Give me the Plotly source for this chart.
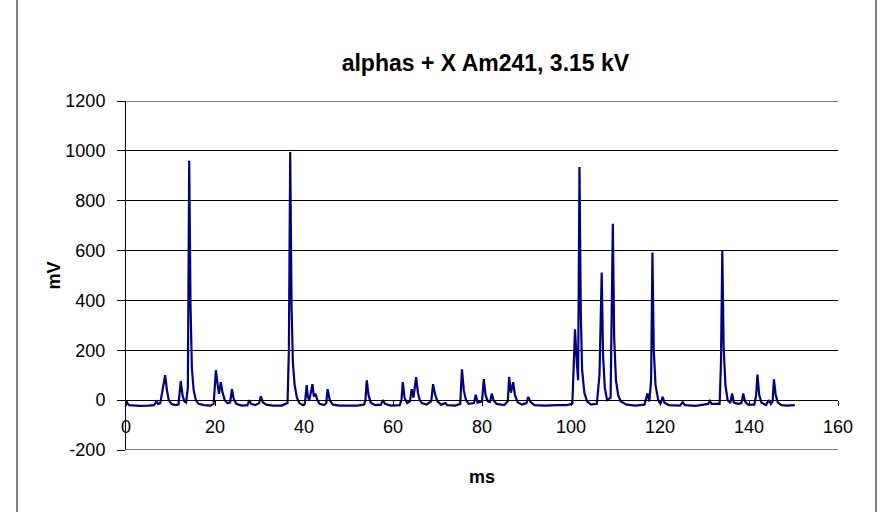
import plotly.graph_objects as go

# Oscilloscope trace: time in ms, signal in mV
time_ms = [
    0.0, 0.3, 0.7, 1.5, 3.0, 5.0, 6.3, 6.8, 7.2, 7.7, 8.2, 8.8, 9.2, 9.6, 10.2, 11.0,
    11.8, 12.3, 12.7, 13.1, 13.5, 13.9, 14.2, 14.5, 14.8, 15.2, 15.7, 16.3, 17.5, 19.0,
    19.7, 20.2, 20.6, 20.9, 21.3, 21.7, 22.2, 22.8, 23.4, 23.8, 24.2, 24.8, 26.0, 27.3,
    27.7, 28.1, 29.0, 29.9, 30.3, 30.7, 31.5, 33.0, 35.0, 35.8, 36.3, 36.6, 36.9, 37.2,
    37.5, 37.9, 38.4, 39.0, 39.8, 40.2, 40.6, 40.9, 41.2, 41.9, 42.2, 42.6, 43.0, 43.5,
    44.5, 45.0, 45.3, 45.8, 46.5, 48.0, 50.0, 52.0, 53.5, 53.8, 54.1, 54.5, 55.0, 56.0,
    57.3, 57.7, 58.2, 59.5, 61.5, 61.9, 62.2, 62.6, 63.2, 63.8, 64.2, 64.6, 65.2, 65.6,
    66.0, 66.5, 67.5, 68.6, 69.0, 69.5, 70.0, 70.8, 71.8, 72.2, 74.0, 75.1, 75.5, 75.9,
    76.4, 77.0, 78.2, 78.6, 79.0, 80.0, 80.4, 80.8, 81.3, 81.8, 82.2, 82.6, 83.3, 85.0,
    85.8, 86.1, 86.5, 87.0, 87.4, 88.0, 89.0, 90.0, 90.4, 90.9, 91.8, 94.0, 97.0, 99.0,
    100.3, 100.9, 101.3, 101.6, 101.9, 102.2, 102.5, 103.0, 103.6, 104.5, 105.8, 106.4,
    106.9, 107.2, 107.6, 108.1, 108.9, 109.4, 109.7, 110.1, 110.6, 111.2, 112.5, 114.5,
    116.5, 117.2, 117.6, 118.0, 118.3, 118.6, 119.0, 119.6, 120.1, 120.6, 121.0, 122.0,
    124.5, 125.1, 125.6, 128.0, 130.8, 131.2, 131.6, 133.4, 133.7, 134.0, 134.3, 134.7,
    135.2, 135.8, 136.2, 136.6, 137.5, 138.3, 138.7, 139.1, 139.8, 141.2, 141.6, 141.9,
    142.3, 142.8, 143.8, 144.5, 144.9, 145.3, 145.6, 146.0, 146.5, 147.3, 148.5, 150.3,
]
signal_mv = [
    0, -12, -20, -22, -23, -22, -20, -5, -15, -12, 33, 100, 40, 0, -15, -20,
    -18, 76, 20, -5, -10, 50, 960, 380, 130, 40, 0, -15, -20, -22,
    -15, 120, 60, 25, 72, 30, 0, -12, -10, 44, 5, -15, -22, -20,
    0, -15, -20, -12, 16, -8, -18, -22, -22, -15, -12, 200, 995, 380,
    150, 60, 10, -12, -20, -15, 60, 10, 0, 64, 15, 25, 0, -15,
    -20, -12, 44, 0, -18, -22, -23, -22, -18, 0, 80, 20, -10, -20,
    -18, 0, -15, -22, -20, 0, 72, 10, -12, -5, 44, 10, 92, 30,
    0, -12, -18, -5, 64, 20, -5, -18, -12, -20, -22, -15, 124, 40,
    0, -15, -12, 22, -10, -5, 84, 20, -5, -8, 27, 0, -15, -20,
    -5, 93, 30, 72, 20, -8, -18, -12, 13, -8, -20, -22, -20, -20,
    -15, 284, 150, 80, 935, 350, 120, 30, -5, -18, -15, 100,
    512, 180, 50, 0, 10, 708, 250, 80, 20, -5, -18, -22,
    -18, 27, -5, 80, 592, 200, 60, 0, -15, 13, -10, -20,
    -22, -8, -20, -23, -15, -3, -15, -15, 150, 600, 210, 60,
    0, -12, 27, -10, -15, -12, 27, -5, -18, -18, 20, 103,
    20, -10, -20, 0, -15, -5, 84, 20, -10, -20, -22, -20,
]

x_ticks = [0, 20, 40, 60, 80, 100, 120, 140, 160]
y_ticks = [-200, 0, 200, 400, 600, 800, 1000, 1200]
x_range = [0, 160]
y_range = [-200, 1200]

FONT = "Liberation Sans, Arial, sans-serif"

fig = go.Figure()
fig.add_trace(go.Scatter(
    x=time_ms, y=signal_mv, mode="lines",
    line=dict(color="#000080", width=2.2),
    showlegend=False, hoverinfo="skip",
))

# horizontal axis crosses the value axis at 0 mV
zero_pos = (0 - y_range[0]) / (y_range[1] - y_range[0])

# gridlines at the two ends of the value axis (plotly skips grid at range edges)
edge_grid = [
    dict(type="line", xref="paper", yref="y", x0=0, x1=1, y0=v, y1=v,
         layer="below", line=dict(color="black", width=1))
    for v in (y_ticks[0], y_ticks[-1])
]

# chart-area frame at the left and right
frame = [
    dict(type="line", xref="paper", yref="paper",
         x0=(17 - 126) / 712, x1=(17 - 126) / 712, y0=-0.3, y1=1.5,
         line=dict(color="black", width=1)),
    dict(type="line", xref="paper", yref="paper",
         x0=(876 - 126) / 712, x1=(876 - 126) / 712, y0=-0.3, y1=1.5,
         line=dict(color="black", width=1)),
]

fig.update_layout(
    width=881, height=512,
    margin=dict(l=126, r=43, t=101, b=62),
    paper_bgcolor="white", plot_bgcolor="white",
    font=dict(family=FONT, size=18, color="black"),
    title=dict(
        text="<b>alphas + X Am241, 3.15 kV</b>",
        x=0.551, xanchor="center", y=1 - 63 / 512, yanchor="middle",
        font=dict(family=FONT, size=23, color="black"),
    ),
    xaxis=dict(
        range=x_range, tickvals=x_ticks, ticktext=[str(v) for v in x_ticks],
        anchor="free", position=zero_pos,
        showline=True, linecolor="black", linewidth=1,
        ticks="outside", ticklen=5, tickcolor="black",
        showgrid=False, zeroline=False,
        ticklabelstandoff=5,
        title=dict(text="<b>ms</b>", standoff=34, font=dict(size=18)),
    ),
    yaxis=dict(
        range=y_range, tickvals=y_ticks, ticktext=[str(v) for v in y_ticks],
        showline=True, linecolor="black", linewidth=1,
        ticks="outside", ticklen=8, tickcolor="black",
        showgrid=True, gridcolor="black", gridwidth=1,
        zeroline=False, ticklabelstandoff=8,
        title=dict(text="<b>mV</b>", standoff=0, font=dict(size=18)),
    ),
    shapes=edge_grid + frame,
)

fig.write_html("out.html")
